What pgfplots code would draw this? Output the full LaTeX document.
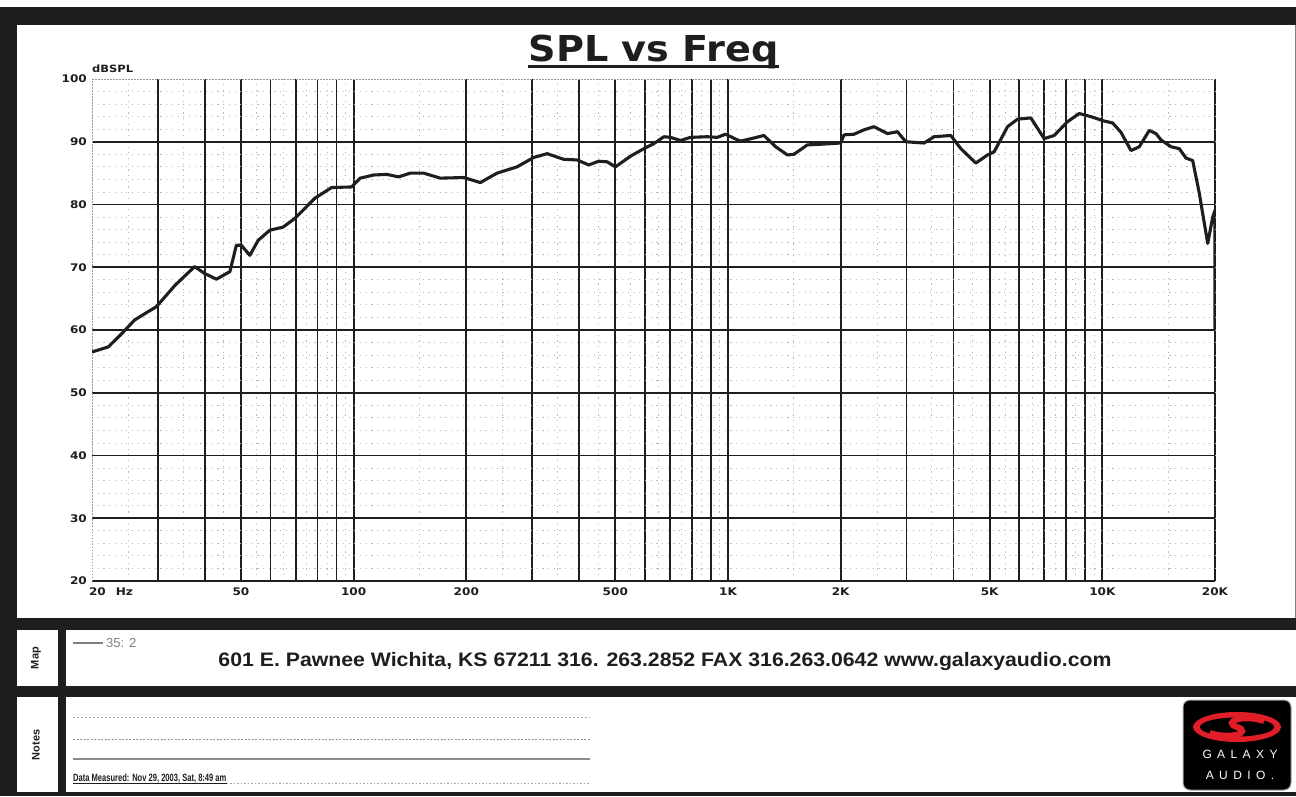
\documentclass[border=0pt]{standalone}
\usepackage{fontspec}
\setmainfont{Liberation Sans}
\usepackage{pgfplots}
\pgfplotsset{compat=1.18}
\newfontfamily\tickfont[FakeStretch=1.15]{DejaVu Sans}
\newfontfamily\titlefont[FakeStretch=1.07]{DejaVu Sans}
\newfontfamily\addrfont[FakeStretch=1.09]{Liberation Sans}
\newfontfamily\notefont[FakeStretch=0.72]{Liberation Sans}
\newfontfamily\logofont[LetterSpace=45]{Liberation Sans}
\definecolor{logored}{RGB}{225,30,40}
\definecolor{ink}{RGB}{30,30,30}

\begin{document}
\begin{tikzpicture}
\begin{scope}[x=1pt,y=1pt]
\useasboundingbox (0,0) rectangle (1296,796);
\fill[white] (0,0) rectangle (1296,796);
% frame bands
\fill[ink] (0,771) rectangle (1296,789);
\fill[ink] (0,0) rectangle (17,789);
\fill[ink] (0,166) rectangle (1296,178);
\fill[ink] (0,99) rectangle (1296,110);
\fill[ink] (0,0) rectangle (1296,4);
\fill[ink] (58,4) rectangle (66,166);
\draw[gray, line width=1pt] (1295,178) -- (1295,771);
\end{scope}

\begin{axis}[
  at={(92pt,215pt)}, anchor=south west,
  scale only axis, width=1123pt, height=502pt,
  xmode=log, xmin=20, xmax=20000, ymin=20, ymax=100,
  axis line style={draw=none},
  tick style={draw=none},
  xtick={30,40,50,60,70,80,90,100,200,300,400,500,600,700,800,900,1000,2000,3000,4000,5000,6000,7000,8000,9000,10000,20000},
  xticklabels={,,50,,,,,100,200,,,500,,,,,1K,2K,,,5K,,,,,10K,20K},
  extra x ticks={20},
  extra x tick labels={\makebox[0pt][l]{\hspace*{-3pt}20\hspace{10pt}Hz}},
  extra x tick style={major grid style={gray!80, line width=1pt, dash pattern=on 1.5pt off 1.5pt}},
  ytick={20,30,40,50,60,70,80,90},
  yticklabels={20,30,40,50,60,70,80,90},
  extra y ticks={100}, extra y tick labels={100},
  extra y tick style={major grid style={gray!80, line width=1pt, dash pattern=on 1.5pt off 1.5pt}},
  minor xtick={25,35,45,55,65,75,85,95,150,250,350,450,550,650,750,850,950,1500,2500,3500,4500,5500,6500,7500,8500,9500,15000},
  minor ytick={22,24,...,98},
  grid=both,
  major grid style={ink, line width=1.7pt},
  minor grid style={gray!55, line width=0.9pt, dash pattern=on 1.2pt off 4.5pt},
  xticklabel style={font=\tickfont\bfseries\fontsize{10.5}{12}\selectfont, inner sep=0pt, yshift=-7pt, text=ink},
  yticklabel style={font=\tickfont\bfseries\fontsize{10.5}{12}\selectfont, inner sep=0pt, xshift=-5pt, text=ink},
]
\addplot[ink, line width=3.1pt, line join=round] table {
20 56.5
22.1 57.3
24.0 59.4
26.0 61.6
28.2 62.9
29.7 63.7
33.3 67.1
37.6 70.1
40.0 69.0
43.0 68.1
46.7 69.3
48.6 73.5
50.1 73.5
52.8 71.9
55.6 74.3
59.7 75.9
64.8 76.4
69.7 77.8
78.8 81.0
87.3 82.7
98.7 82.8
104.1 84.2
113.0 84.7
122.7 84.8
131.8 84.4
141.7 85.0
153.8 85.0
170.4 84.2
196.7 84.3
218 83.5
241.6 85.0
273.2 86.0
302.7 87.5
328.8 88.1
364 87.2
395.4 87.1
424.6 86.3
451.6 86.9
475.6 86.8
500.4 86.0
549 87.7
596 88.9
633.7 89.7
673.9 90.8
702.4 90.7
747 90.2
794 90.7
880 90.8
936 90.7
985 91.2
1059 90.3
1081 90.1
1173 90.6
1247 91.0
1341 89.2
1441 87.9
1500 88.0
1629 89.5
1768 89.6
2000 89.8
2041 91.1
2171 91.2
2308 91.9
2455 92.4
2667 91.3
2836 91.6
2985 90.0
3340 89.8
3552 90.8
3937 91.0
4188 88.9
4592 86.6
4936 87.9
5141 88.4
5582 92.4
5937 93.6
6442 93.8
6993 90.5
7437 91.0
8074 93.2
8675 94.5
9322 94.0
10116 93.3
10654 93.0
11216 91.5
11926 88.6
12553 89.2
13347 91.8
13909 91.3
14344 90.3
15256 89.2
16054 88.9
16732 87.4
17436 87.0
18157 81.8
19122 73.8
19720 78.0
20000 79.1
20000 60
};
\end{axis}

\begin{scope}[x=1pt,y=1pt]
% y unit label
\node[anchor=base west, inner sep=0pt, text=ink, font=\tickfont\bfseries\fontsize{10}{12}\selectfont] at (92,723) {dBSPL};
% title
\node[anchor=base, inner sep=0pt, text=ink, font=\titlefont\bfseries\fontsize{35.7}{40}\selectfont] (t) at (653.5,734) {SPL vs Freq};
\draw[ink, line width=3pt] ([yshift=-4.5pt]t.base west) -- ([yshift=-4.5pt]t.base east);
% map row
\node[rotate=90, inner sep=0pt, text=ink, font=\bfseries\fontsize{11}{13}\selectfont] at (36,138) {Map};
\draw[gray, line width=1.2pt] (73,153) -- (103,153);
\node[anchor=base west, inner sep=0pt, text=gray, font=\fontsize{13}{15}\selectfont] at (106,149) {35: 2};
\node[anchor=base, inner sep=0pt, text=ink, font=\addrfont\bfseries\fontsize{19.5}{22}\selectfont] at (665,130) {601 E. Pawnee Wichita, KS 67211 316. 263.2852 FAX 316.263.0642 www.galaxyaudio.com};
% notes row
\node[rotate=90, inner sep=0pt, text=ink, font=\bfseries\fontsize{11}{13}\selectfont] at (36,51) {Notes};
\draw[gray!70, line width=1pt, dash pattern=on 1.5pt off 2.5pt] (73,79) -- (590,79);
\draw[gray!85, line width=1pt, dash pattern=on 2pt off 1.5pt] (73,57) -- (590,57);
\draw[gray!90, line width=1.2pt] (73,37) -- (590,37);
\node[anchor=base west, inner sep=0pt, text=ink, font=\notefont\bfseries\fontsize{10.5}{12}\selectfont] (d) at (73,15) {Data Measured: Nov 29, 2003, Sat, 8:49 am};
\draw[ink, line width=0.8pt] ([yshift=-2pt]d.base west) -- ([yshift=-2pt]d.base east);
\draw[gray!70, line width=1pt, dash pattern=on 1.5pt off 2pt] ([yshift=-2pt]d.base east) -- (590,13);
% logo
\fill[black, draw=gray!70, line width=1pt, rounded corners=7pt] (1183,6) rectangle (1291,96);
\fill[logored] (1237,69) ellipse [x radius=44, y radius=15];
\fill[black] (1237,69) ellipse [x radius=37, y radius=9.5];
\draw[logored, line width=6pt] (1264,75) .. controls (1242,82) and (1222,74) .. (1237,69) .. controls (1252,64) and (1232,56) .. (1210,63);
\node[inner sep=0pt, text=white, font=\logofont\fontsize{12}{14}\selectfont] at (1240,42) {GALAXY};
\node[inner sep=0pt, text=white, font=\logofont\fontsize{12}{14}\selectfont] at (1240,21) {AUDIO.};
\end{scope}
\end{tikzpicture}
\end{document}
